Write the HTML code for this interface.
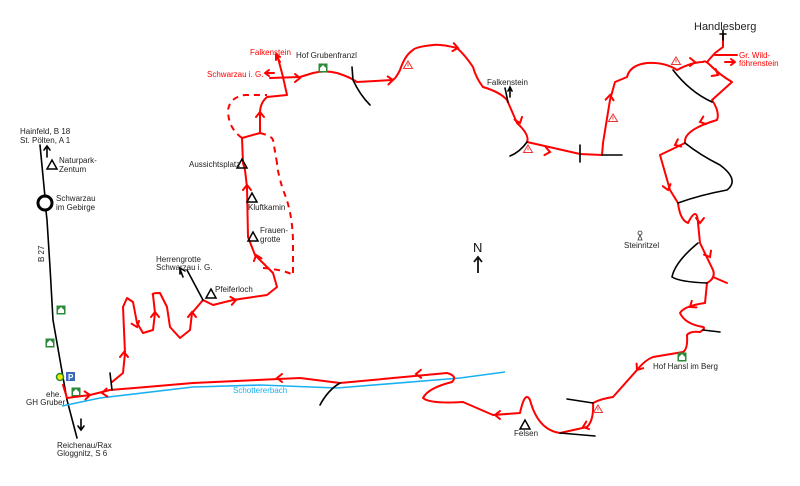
<!DOCTYPE html>
<html><head><meta charset="utf-8"><style>
html,body{margin:0;padding:0;background:#fff;}
svg{display:block;font-family:"Liberation Sans",sans-serif;}
.r{fill:none;stroke:#f00;stroke-width:2;stroke-linejoin:round;stroke-linecap:round;}
.k{fill:none;stroke:#000;stroke-width:1.6;stroke-linecap:round;}
.d{fill:none;stroke:#f00;stroke-width:2;stroke-dasharray:6,5;}
.t{font-size:8px;fill:#222;}
.tr{font-size:8px;fill:#f00;}
</style></head><body>
<svg width="800" height="486" viewBox="0 0 800 486" xmlns="http://www.w3.org/2000/svg">
<defs>
<path id="ch" d="M-5,-4 L0,0 L-5,4" fill="none" stroke="#f00" stroke-width="2" stroke-linecap="round"/>
<g id="tri"><path d="M0,-5 L5,4 L-5,4 Z" fill="none" stroke="#000" stroke-width="1.5"/></g>
<g id="warn"><path d="M0,-4 L4.5,3.5 L-4.5,3.5 Z" fill="#fff" stroke="#e33" stroke-width="1"/><path d="M0,-1.5 V1.5" stroke="#e33" stroke-width="0.9"/></g>
<g id="hof"><rect x="-4.5" y="-4.5" width="9" height="9" fill="#2a8a3a"/><path d="M-3,0 L0,-3 L3,0 V3 H-3 Z" fill="#fff"/></g>
</defs>

<path class="k" d="M40,145 L45,197"/>
<circle cx="45" cy="203" r="7" fill="none" stroke="#000" stroke-width="3"/>
<path class="k" d="M46,211 L47,220 L50,267 L53,320 L60,360 L67,400 L77,438"/>
<path class="k" d="M47,157 V146 M44,150 L47,146 L50,150"/>
<path class="k" d="M81,419 V429 M78,426 L81,430 L84,426"/>
<text class="t" x="20" y="134">Hainfeld, B 18</text>
<text class="t" x="20" y="143">St. Pölten, A 1</text>
<use href="#tri" x="52" y="165"/>
<text class="t" x="59" y="163">Naturpark-</text>
<text class="t" x="59" y="172">Zentum</text>
<text class="t" x="56" y="201">Schwarzau</text>
<text class="t" x="56" y="210">im Gebirge</text>
<text class="t" transform="translate(44,262) rotate(-90)">B 27</text>
<use href="#hof" x="61" y="310"/>
<use href="#hof" x="50" y="343"/>
<circle cx="60" cy="377" r="3.5" fill="#ee0" stroke="#2a8a3a" stroke-width="1.5"/>
<rect x="66" y="372" width="9" height="9" fill="#3a6ab8"/><text x="68" y="380" font-size="8" fill="#fff" font-weight="bold">P</text>
<use href="#hof" x="76" y="392"/>
<text class="t" x="46" y="397">ehe.</text>
<text class="t" x="26" y="405">GH Gruber</text>
<text class="t" x="57" y="448">Reichenau/Rax</text>
<text class="t" x="57" y="456">Gloggnitz, S 6</text>

<path fill="none" stroke="#1ab0f0" stroke-width="1.6" d="M62,406 L100,398 L193,387 L260,385 L337,388 L460,378 L505,372"/>
<text x="233" y="393" font-size="8" fill="#1ab0f0">Schottererbach</text>

<path class="r" d="M63,385 L67,398 L90,395 L110,390 L193,383 L300,378 L340,383 L447,373 Q458,376 452,382 Q428,388 423,398 Q430,404 463,402 L493,415 L520,413 Q525,390 530,400 Q538,430 560,433 L587,427 Q594,420 593,403 Q600,399 613,397 L637,370 Q645,360 653,357 L683,352 Q688,349 687,335 Q690,331 700,332 Q706,328 703,327 Q685,324 680,313 Q684,306 705,303 L707,283 Q716,278 713,270 L700,243 L698,223 Q697,205 688,223 Q680,220 678,203 L670,190 L660,155 L685,143 Q683,130 717,120 Q720,112 712,100 L732,82 Q720,75 710,65 Q705,60 703,62 Q692,62 677,70 Q665,62 647,63 Q630,65 627,77 Q620,80 615,82 L610,100 L603,143 L602,155 L580,154 L527,142 Q530,135 517,123 L507,100 Q500,92 483,87 Q476,78 473,67 Q465,55 457,48 Q440,44 433,45 Q415,47 413,50 Q405,55 400,70 Q395,80 392,80 L357,82 Q350,77 337,73 Q325,70 313,73 L300,77 L270,78"/>
<path class="r" d="M278,58 L283,77 L287,95 L267,97 Q260,103 260,113 L260,133 L242,138 L243,163 L245,170 L247,187 L248,237 L255,255 L263,263 L273,273 L277,287 L267,295 L233,300 L213,305 L203,300 L192,313 L190,330 L180,338 L170,327 L167,307 L160,293 Q151,293 153,295 L155,313 L153,330 L143,333 L137,323 L133,302 L127,298 L123,307 L125,353 L123,373 L112,382"/>
<path class="r" d="M707,62 L715,53 L723,47 L723,35 M715,55 L737,55 M713,277 L727,283"/>
<path class="k" d="M723,30 V40 M720,34 H726"/>
<path class="r" d="M274,73 H266 M269,70 L265,73 L269,76"/>
<path class="r" d="M280,62 L276,55 M276,60 L276,54 L280,57"/>
<path class="r" d="M725,62 H735 M731,59 L735,62 L731,65"/>
<path class="d" d="M242,138 Q228,128 228,110 Q230,97 245,95 L267,95"/>
<path class="d" d="M260,133 Q272,136 273,140 L277,163 M263,268 Q285,270 293,275 L293,240 Q292,210 283,190 Q277,170 277,163"/>

<path class="k" d="M352,67 L353,80 Q360,95 370,105"/>
<path class="k" d="M505,88 L508,102"/>
<path class="k" d="M527,142 Q520,152 510,156"/>
<path class="k" d="M580,145 L580,162 M602,155 H622"/>
<path class="k" d="M673,70 Q690,92 712,102"/>
<path class="k" d="M685,143 Q700,155 720,165 Q740,180 727,190 Q700,195 678,203"/>
<path class="k" d="M698,243 Q675,262 672,277 Q680,282 707,283"/>
<path class="k" d="M703,330 L720,332"/>
<path class="k" d="M567,399 L593,403 M560,433 L595,436"/>
<path class="k" d="M320,405 Q328,390 340,383"/>
<path class="k" d="M110,373 L112,390"/>
<path class="k" d="M187,270 L203,300 M183,277 L180,269 M180,274 L180,268 L185,271"/>
<path class="k" d="M510,97 V87 M508,91 L510,87 L512,91"/>

<use href="#ch" transform="translate(90,395) rotate(-5)"/>
<use href="#ch" transform="translate(102,393) rotate(175)"/>
<use href="#ch" transform="translate(277,378) rotate(180)"/>
<use href="#ch" transform="translate(416,374) rotate(178)"/>
<use href="#ch" transform="translate(495,415) rotate(180)"/>
<use href="#ch" transform="translate(583,427) rotate(160)"/>
<use href="#ch" transform="translate(637,370) rotate(125)"/>
<use href="#ch" transform="translate(690,307) rotate(145)"/>
<use href="#ch" transform="translate(710,257) rotate(60)"/>
<use href="#ch" transform="translate(700,223) rotate(90)"/>
<use href="#ch" transform="translate(668,190) rotate(75)"/>
<use href="#ch" transform="translate(675,145) rotate(155)"/>
<use href="#ch" transform="translate(700,122) rotate(160)"/>
<use href="#ch" transform="translate(718,75) rotate(30)"/>
<use href="#ch" transform="translate(695,62) rotate(0)"/>
<use href="#ch" transform="translate(610,95) rotate(-85)"/>
<use href="#ch" transform="translate(550,152) rotate(10)"/>
<use href="#ch" transform="translate(520,123) rotate(70)"/>
<use href="#ch" transform="translate(458,48) rotate(10)"/>
<use href="#ch" transform="translate(393,80) rotate(-5)"/>
<use href="#ch" transform="translate(300,78) rotate(0)"/>
<use href="#ch" transform="translate(260,112) rotate(-90)"/>
<use href="#ch" transform="translate(247,185) rotate(-90)"/>
<use href="#ch" transform="translate(256,255) rotate(-110)"/>
<use href="#ch" transform="translate(236,300) rotate(-10)"/>
<use href="#ch" transform="translate(192,312) rotate(-90)"/>
<use href="#ch" transform="translate(155,312) rotate(-90)"/>
<use href="#ch" transform="translate(137,327) rotate(70)"/>
<use href="#ch" transform="translate(124,352) rotate(-90)"/>

<use href="#warn" x="408" y="65"/>
<use href="#warn" x="528" y="149"/>
<use href="#warn" x="613" y="118"/>
<use href="#warn" x="676" y="61"/>
<use href="#warn" x="598" y="409"/>

<text class="tr" x="250" y="55">Falkenstein</text>
<text class="tr" x="207" y="77">Schwarzau i. G.</text>
<text class="t" x="296" y="58">Hof Grubenfranzl</text>
<use href="#hof" x="323" y="68"/>
<text class="t" x="487" y="85">Falkenstein</text>
<text x="694" y="30" font-size="11" fill="#222">Handlesberg</text>
<text class="tr" x="739" y="58">Gr. Wild-</text>
<text class="tr" x="739" y="66">föhrenstein</text>
<use href="#tri" x="242" y="164"/>
<text class="t" x="189" y="167">Aussichtsplatz</text>
<use href="#tri" x="252" y="198"/>
<text class="t" x="248" y="210">Kluftkamin</text>
<use href="#tri" x="253" y="237"/>
<text class="t" x="260" y="233">Frauen-</text>
<text class="t" x="260" y="242">grotte</text>
<text class="t" x="156" y="262">Herrengrotte</text>
<text class="t" x="156" y="270">Schwarzau i. G.</text>
<use href="#tri" x="211" y="294"/>
<text class="t" x="215" y="292">Pfeiferloch</text>
<text x="473" y="252" font-size="13" fill="#111">N</text>
<path d="M478,273 V257 M474,262 L478,257 L482,262" stroke="#111" stroke-width="1.8" fill="none"/>
<circle cx="640" cy="233" r="2" fill="none" stroke="#333" stroke-width="0.8"/><path d="M638,240 L640,235 L642,240 Z" fill="none" stroke="#333" stroke-width="0.8"/>
<text class="t" x="624" y="248">Steinritzel</text>
<use href="#hof" x="682" y="357"/>
<text class="t" x="653" y="369">Hof Hansl im Berg</text>
<use href="#tri" x="525" y="425"/>
<text class="t" x="514" y="436">Felsen</text>
</svg>
</body></html>
